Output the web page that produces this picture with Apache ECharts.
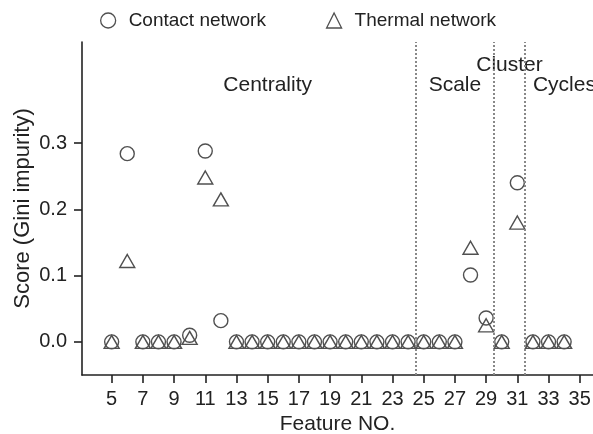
<!DOCTYPE html>
<html>
<head>
<meta charset="utf-8">
<script src="https://cdn.jsdelivr.net/npm/echarts@6/dist/echarts.min.js"></script>
<style>
    html, body { margin: 0; padding: 0; background: #fff; }
    #chart { width: 593px; height: 434px; }
</style>
</head>
<body>
<div id="chart"></div>
<script>
// feature numbers and scores
var features = [5, 6, 7, 8, 9, 10, 11, 12, 13, 14, 15, 16, 17, 18, 19, 20, 21, 22, 23, 24, 25, 26, 27, 28, 29, 30, 31, 32, 33, 34];
var contactScores = [0, 0.284, 0, 0, 0, 0.010, 0.288, 0.032, 0, 0, 0, 0, 0, 0, 0, 0, 0, 0, 0, 0, 0, 0, 0, 0.101, 0.036, 0, 0.240, 0, 0, 0];
var thermalScores = [0, 0.122, 0, 0, 0, 0.006, 0.248, 0.215, 0, 0, 0, 0, 0, 0, 0, 0, 0, 0, 0, 0, 0, 0, 0, 0.142, 0.025, 0, 0.180, 0, 0, 0];
var xTicks = [5, 7, 9, 11, 13, 15, 17, 19, 21, 23, 25, 27, 29, 31, 33, 35];
var yTicks = [0, 0.1, 0.2, 0.3];
var groupBounds = [24.5, 29.5, 31.5];
var groupLabels = [
    { name: 'Centrality', x: 15, y: 0.387, align: 'center' },
    { name: 'Scale', x: 27.0, y: 0.387, align: 'center' },
    { name: 'Cluster', x: 30.5, y: 0.417, align: 'center' },
    { name: 'Cycles', x: 32.0, y: 0.387, align: 'left' }
];

var font = 'Liberation Sans, Arial, sans-serif';
var ink = '#222';
var markColor = '#505050';

function pairs(xs, ys) {
    return xs.map(function (x, i) { return [x, ys[i]]; });
}

var chart = echarts.init(document.getElementById('chart'));

chart.setOption({
    animation: false,
    backgroundColor: '#fff',
    textStyle: { fontFamily: font, color: ink },
    grid: { left: 82, right: 0, top: 42, bottom: 59, outerBoundsMode: 'none', containLabel: false },
    legend: {
        left: 95,
        top: 6,
        itemWidth: 15,
        itemHeight: 15,
        itemGap: 60,
        textStyle: { fontFamily: font, fontSize: 19, color: ink, padding: [0, 0, 0, 8] },
        data: [
            { name: 'Contact network', icon: 'circle', itemStyle: { color: 'transparent', borderColor: markColor, borderWidth: 1.3 } },
            { name: 'Thermal network', icon: 'triangle', itemStyle: { color: 'transparent', borderColor: markColor, borderWidth: 1.3 } }
        ]
    },
    xAxis: {
        type: 'value',
        min: 3.1,
        max: 35.85,
        name: 'Feature NO.',
        nameLocation: 'middle',
        nameGap: 39,
        nameMoveOverlap: false,
        nameTextStyle: { fontSize: 21, color: ink, fontFamily: font },
        axisLine: { onZero: false, lineStyle: { color: ink, width: 1.6 } },
        axisTick: { show: true, length: 8, lineStyle: { color: ink, width: 1.6 }, customValues: xTicks },
        axisLabel: { fontSize: 20, color: ink, margin: 14, customValues: xTicks },
        splitLine: { show: false }
    },
    yAxis: {
        type: 'value',
        min: -0.05,
        max: 0.4525,
        name: 'Score (Gini impurity)',
        nameLocation: 'middle',
        nameGap: 48,
        nameMoveOverlap: false,
        nameTextStyle: { fontSize: 22, color: ink, fontFamily: font },
        axisLine: { show: true, onZero: false, lineStyle: { color: ink, width: 1.6 } },
        axisTick: { show: true, length: 8, lineStyle: { color: ink, width: 1.6 }, customValues: yTicks },
        axisLabel: {
            fontSize: 20, color: ink, margin: 15, customValues: yTicks,
            formatter: function (v) { return v.toFixed(1); }
        },
        splitLine: { show: false }
    },
    series: [
        {
            name: 'Contact network',
            type: 'scatter',
            symbol: 'circle',
            symbolSize: 14,
            itemStyle: { color: 'transparent', borderColor: markColor, borderWidth: 1.4, opacity: 1 },
            data: pairs(features, contactScores),
            z: 3,
            markLine: {
                silent: true,
                symbol: 'none',
                label: { show: false },
                lineStyle: { color: '#888', type: [2, 2], width: 2 },
                data: groupBounds.map(function (v) { return { xAxis: v }; })
            }
        },
        {
            name: 'Thermal network',
            type: 'scatter',
            symbol: 'triangle',
            symbolSize: [15, 13],
            itemStyle: { color: 'transparent', borderColor: markColor, borderWidth: 1.4, opacity: 1 },
            data: pairs(features, thermalScores),
            z: 3
        },
        {
            // group names sitting in data space
            name: 'groups',
            type: 'scatter',
            symbolSize: 0,
            silent: true,
            itemStyle: { opacity: 1 },
            data: groupLabels.map(function (g) {
                return {
                    value: [g.x, g.y],
                    label: {
                        show: true,
                        position: 'inside',
                        formatter: g.name,
                        fontSize: 21,
                        color: ink,
                        fontFamily: font,
                        align: g.align
                    }
                };
            })
        }
    ]
});
</script>
</body>
</html>
